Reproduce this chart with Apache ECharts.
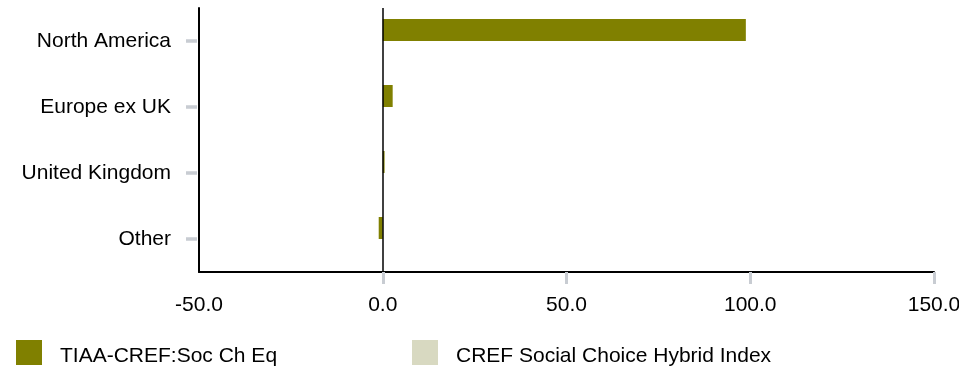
<!DOCTYPE html>
<html>
<head>
<meta charset="utf-8">
<script src="https://cdn.jsdelivr.net/npm/echarts@6/dist/echarts.min.js"></script>
<style>
  html, body { margin: 0; padding: 0; background: #fff; }
  #chart { width: 959px; height: 371px; }
</style>
</head>
<body>
<div id="chart"></div>
<script>
// Regional allocation (%) for the fund and its benchmark
const regions = ['North America', 'Europe ex UK', 'United Kingdom', 'Other'];
const fundName = 'TIAA-CREF:Soc Ch Eq';
const indexName = 'CREF Social Choice Hybrid Index';
const fundValues = [98.8, 2.7, 0.5, -1.1];
const indexValues = [null, null, null, null];
const xTicks = [-50, 0, 50, 100, 150];
const xTickMarks = [0, 50, 100, 150];

const FONT = '"Liberation Sans", Arial, sans-serif';
const TICK_GREY = '#c8ccd2';

const chart = echarts.init(document.getElementById('chart'), null, { renderer: 'canvas' });

// Legend entry: square swatch followed by the series name, nudged down and right
function legendBlock(name, left) {
  return {
    data: [name],
    left: left,
    top: 340,
    padding: 0,
    itemWidth: 26,
    itemHeight: 25,
    icon: 'rect',
    selectedMode: false,
    formatter: n => '{t|' + n + '}',
    textStyle: {
      rich: {
        t: { fontSize: 21, fontFamily: FONT, color: '#000', padding: [8, 0, 0, 13] }
      }
    }
  };
}

chart.setOption({
  animation: false,
  backgroundColor: '#ffffff',
  textStyle: { fontFamily: FONT },
  grid: {
    left: 199, right: 25, top: 8, bottom: 99,
    containLabel: false,
    outerBoundsMode: 'none'
  },
  xAxis: {
    type: 'value',
    min: xTicks[0],
    max: xTicks[xTicks.length - 1],
    interval: 50,
    axisLine: { show: true, onZero: false, lineStyle: { color: '#000', width: 2 } },
    axisTick: {
      show: true,
      customValues: xTickMarks,
      length: 12,
      lineStyle: { color: TICK_GREY, width: 3 }
    },
    axisLabel: {
      fontSize: 21,
      fontFamily: FONT,
      color: '#000',
      margin: 23,
      showMinLabel: true,
      showMaxLabel: true,
      hideOverlap: false,
      formatter: v => v.toFixed(1)
    },
    splitLine: { show: false }
  },
  yAxis: [
    {
      type: 'category',
      data: regions,
      inverse: true,
      position: 'left',
      offset: 2,
      axisLine: { show: false, onZero: false },
      axisTick: {
        show: true,
        alignWithLabel: true,
        length: 11,
        lineStyle: { color: TICK_GREY, width: 3.5 }
      },
      axisLabel: { fontSize: 21, fontFamily: FONT, color: '#000', margin: 26, padding: [3, 0, 0, 0] },
      splitLine: { show: false }
    },
    {
      type: 'category',
      data: regions,
      inverse: true,
      position: 'left',
      offset: 0,
      axisLine: { show: true, onZero: false, lineStyle: { color: '#000', width: 2 } },
      axisTick: { show: false },
      axisLabel: { show: false },
      splitLine: { show: false }
    }
  ],
  legend: [legendBlock(fundName, 16), legendBlock(indexName, 412)],
  series: [
    {
      name: fundName,
      type: 'bar',
      yAxisIndex: 0,
      data: fundValues,
      barWidth: 22,
      barGap: '0%',
      itemStyle: { color: '#808000' },
      markLine: {
        silent: true,
        symbol: 'none',
        label: { show: false },
        lineStyle: { color: '#000', width: 1.5, type: 'solid' },
        data: [{ xAxis: 0 }]
      }
    },
    {
      name: indexName,
      type: 'bar',
      yAxisIndex: 0,
      data: indexValues,
      barWidth: 22,
      barGap: '0%',
      itemStyle: { color: '#d8d9c1' }
    }
  ]
});
</script>
</body>
</html>
